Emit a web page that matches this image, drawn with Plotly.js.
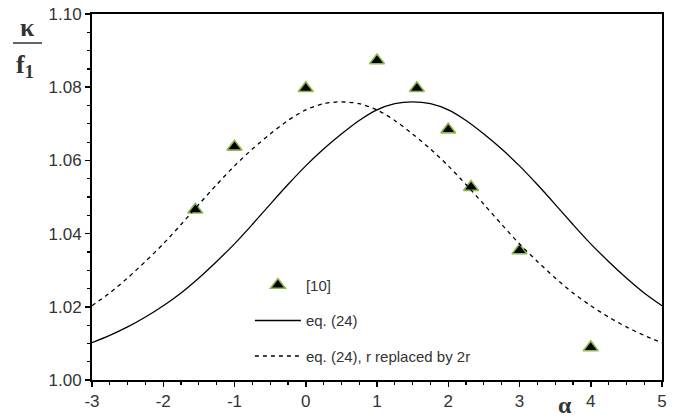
<!DOCTYPE html>
<html>
<head>
<meta charset="utf-8">
<script src="https://cdn.plot.ly/plotly-3.0.1.min.js"></script>
<style>html,body{margin:0;padding:0;background:#fff;}#chart{width:693px;height:418px;}</style>
</head>
<body>
<div id="chart"></div>
<script>
// Experimental points [10]
const expAlpha = [-1.55, -1.0, 0.0, 1.0, 1.56, 2.0, 2.32, 3.0, 4.0];
const expKappa = [1.0465, 1.0637, 1.0797, 1.0873, 1.0797, 1.0684, 1.0527, 1.0354, 1.0089];

// Curves
const curveAlpha = [-3, -2.75, -2.5, -2.25, -2, -1.75, -1.5, -1.25, -1, -0.75, -0.5, -0.25, 0, 0.25, 0.5, 0.75, 1,
                    1.25, 1.5, 1.75, 2, 2.25, 2.5, 2.75, 3, 3.25, 3.5, 3.75, 4, 4.25, 4.5, 4.75, 5];
const eq24 = [1.0102, 1.0122, 1.0145, 1.0172, 1.0203, 1.0238, 1.0279, 1.0324, 1.0372, 1.0425, 1.0480,
              1.0534, 1.0585, 1.0631, 1.0672, 1.0709, 1.0738, 1.0755, 1.0760, 1.0755, 1.0738, 1.0709,
              1.0672, 1.0631, 1.0585, 1.0534, 1.0480, 1.0425, 1.0372, 1.0324, 1.0279, 1.0238, 1.0203];
const eq24r2 = [1.0203, 1.0238, 1.0279, 1.0324, 1.0372, 1.0425, 1.0480, 1.0534, 1.0585, 1.0631, 1.0672,
                1.0709, 1.0738, 1.0755, 1.0760, 1.0755, 1.0738, 1.0709, 1.0672, 1.0631, 1.0585, 1.0534,
                1.0480, 1.0425, 1.0372, 1.0324, 1.0279, 1.0238, 1.0203, 1.0172, 1.0145, 1.0122, 1.0102];

const xTicks = [-3, -2, -1, 0, 1, 2, 3, 4, 5];
const yTicks = [1.00, 1.02, 1.04, 1.06, 1.08, 1.10];
const yTickText = ['1.00', '1.02', '1.04', '1.06', '1.08', '1.10'];

const traces = [
  {
    x: expAlpha, y: expKappa, type: 'scatter', mode: 'markers', name: '[10]',
    legendgroup: 'a',
    marker: {symbol: 'triangle-up', size: 13, color: '#000', line: {color: '#8fb84e', width: 1.6}}
  },
  {
    x: curveAlpha, y: eq24, type: 'scatter', mode: 'lines', name: 'eq. (24)',
    legendgroup: 'b',
    line: {color: '#000', width: 1.3, shape: 'spline', smoothing: 0.8}
  },
  {
    x: curveAlpha, y: eq24r2, type: 'scatter', mode: 'lines', name: 'eq. (24), r replaced by 2r',
    legendgroup: 'c',
    line: {color: '#000', width: 1.3, dash: '4px,4px', shape: 'spline', smoothing: 0.8}
  }
];

const tickFont = {family: 'Liberation Sans, Arial, sans-serif', size: 17, color: '#333'};

const layout = {
  width: 693, height: 418,
  margin: {l: 92, r: 31, t: 14, b: 38},
  paper_bgcolor: '#fff', plot_bgcolor: '#fff',
  showlegend: true,
  legend: {
    x: 0.277, y: 0.304, xanchor: 'left', yanchor: 'top',
    font: {family: 'Liberation Sans, Arial, sans-serif', size: 15, color: '#333'},
    bgcolor: 'rgba(0,0,0,0)', borderwidth: 0,
    tracegroupgap: 13, itemwidth: 46
  },
  xaxis: {
    range: [-3, 5], tickmode: 'array', tickvals: xTicks, ticktext: xTicks.map(String),
    ticks: 'outside', ticklen: 5, tickwidth: 1.5, tickcolor: '#000',
    minor: {dtick: 0.25, ticks: 'outside', ticklen: 3, tickwidth: 1.2, tickcolor: '#000', showgrid: false},
    showline: true, linecolor: '#000', linewidth: 2, mirror: true,
    showgrid: false, zeroline: false, tickfont: tickFont
  },
  yaxis: {
    range: [1.0, 1.10], tickmode: 'array', tickvals: yTicks, ticktext: yTickText,
    ticks: 'outside', ticklen: 5, tickwidth: 1.5, tickcolor: '#000',
    minor: {dtick: 0.005, ticks: 'outside', ticklen: 3, tickwidth: 1.2, tickcolor: '#000', showgrid: false},
    showline: true, linecolor: '#000', linewidth: 2, mirror: true,
    showgrid: false, zeroline: false, tickfont: tickFont
  },
  annotations: [
    {xref: 'paper', yref: 'paper', x: (565 - 92) / 570, y: (380 - 405) / 366, text: '<b>α</b>', showarrow: false,
     font: {family: 'Liberation Serif, Times New Roman, serif', size: 24, color: '#333'}, xanchor: 'center', yanchor: 'middle'},
    {xref: 'paper', yref: 'paper', x: (27 - 92) / 570, y: (380 - 27) / 366, text: '<b>κ</b>', showarrow: false,
     font: {family: 'Liberation Serif, Times New Roman, serif', size: 26, color: '#333'}, xanchor: 'center', yanchor: 'middle'},
    {xref: 'paper', yref: 'paper', x: (25 - 92) / 570, y: (380 - 66) / 366, text: '<b>f<sub>1</sub></b>', showarrow: false,
     font: {family: 'Liberation Serif, Times New Roman, serif', size: 26, color: '#333'}, xanchor: 'center', yanchor: 'middle'}
  ],
  shapes: [
    {type: 'line', xref: 'paper', yref: 'paper', x0: (13 - 92) / 570, x1: (42 - 92) / 570,
     y0: (380 - 43) / 366, y1: (380 - 43) / 366, line: {color: '#333', width: 1.5}}
  ]
};

Plotly.newPlot('chart', traces, layout, {displayModeBar: false, staticPlot: true});
</script>
</body>
</html>
